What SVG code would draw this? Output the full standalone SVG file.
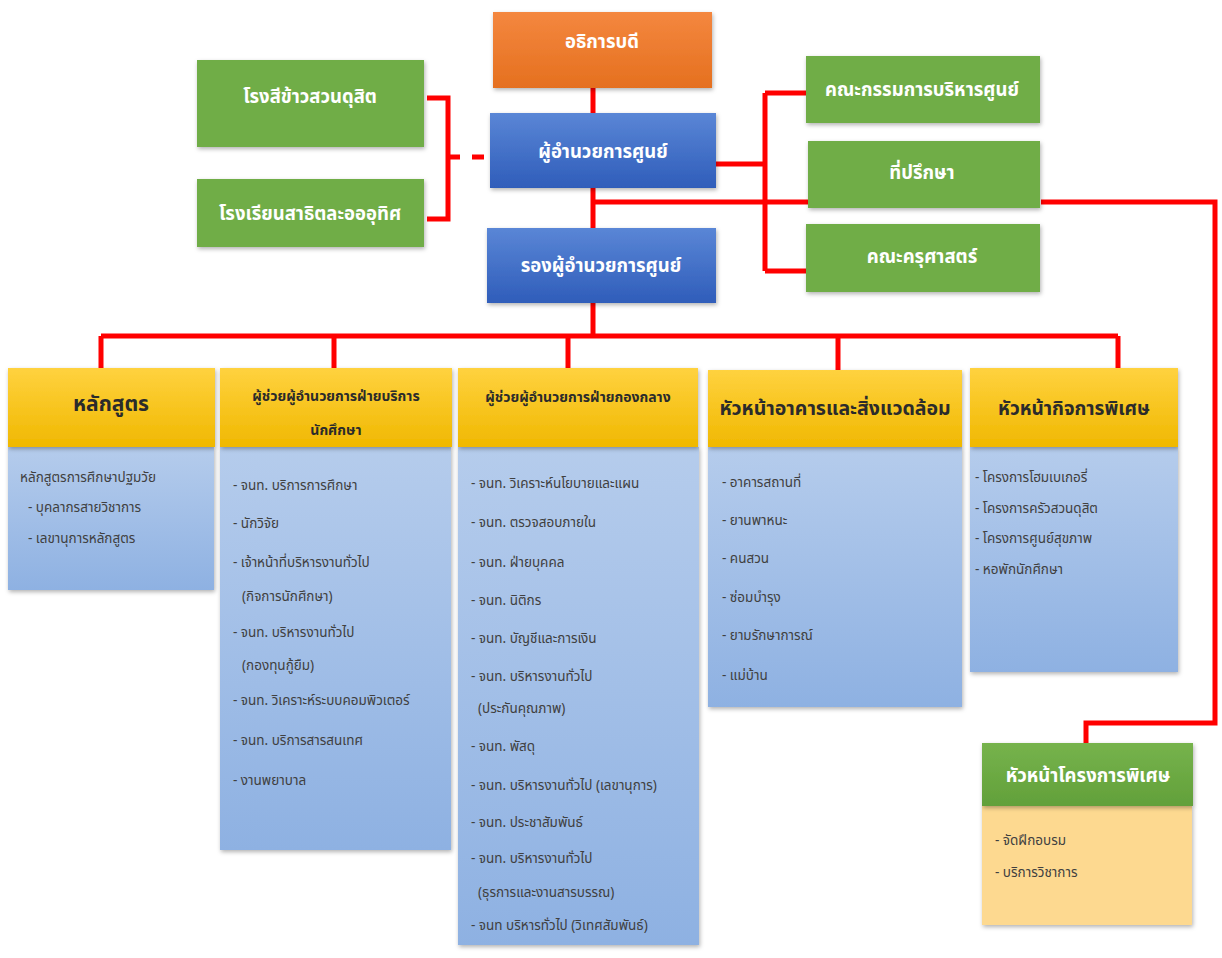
<svg xmlns="http://www.w3.org/2000/svg" width="1222" height="958" viewBox="0 0 1222 958">
<defs>
<linearGradient id="gOrange" x1="0" y1="0" x2="0" y2="1"><stop offset="0" stop-color="#F4873F"/><stop offset="1" stop-color="#E5701F"/></linearGradient>
<linearGradient id="gBlue" x1="0" y1="0" x2="0" y2="1"><stop offset="0" stop-color="#5A86D6"/><stop offset="1" stop-color="#2F5DBA"/></linearGradient>
<linearGradient id="gGold" x1="0" y1="0" x2="0" y2="1"><stop offset="0" stop-color="#FFD23F"/><stop offset="1" stop-color="#F0B800"/></linearGradient>
<linearGradient id="gBody" x1="0" y1="0" x2="0" y2="1"><stop offset="0" stop-color="#B5CCEC"/><stop offset="1" stop-color="#8EB1E2"/></linearGradient>
<linearGradient id="gGreen" x1="0" y1="0" x2="0" y2="1"><stop offset="0" stop-color="#76B34C"/><stop offset="1" stop-color="#62A03A"/></linearGradient>
<filter id="sh" x="-10%" y="-10%" width="120%" height="130%"><feDropShadow dx="1" dy="2" stdDeviation="2" flood-color="#000" flood-opacity="0.3"/></filter>
</defs>
<style>
.t{font-family:"Noto Sans Thai","Noto Sans","Liberation Sans",sans-serif;}
.w{fill:#FFFFFF;font-weight:bold;font-size:18.5px;text-anchor:middle;}
.h{fill:#2B2B2B;font-weight:bold;text-anchor:middle;}
.b{fill:#404040;font-size:13.5px;}
.ln{stroke:#FF0000;stroke-width:5;fill:none;}
</style>
<rect width="1222" height="958" fill="#FFFFFF"/>

<g id="connectors">
<path class="ln" d="M593 88 V114 M593 187 V230 M593 302 V336 M101 336 H1118 M101 336 V368 M334 336 V368 M568 336 V368 M838 336 V370 M1118 336 V368"/>
<path class="ln" d="M427 98 H448 V219 H427"/>
<path class="ln" d="M448 157 H488" stroke-dasharray="12 12"/>
<path class="ln" d="M716 164 H765 M765 93 V271 M765 93 H806 M765 271 H806"/>
<path class="ln" d="M593 202 H808 M1041 202 H1215 V723 H1086 V743"/>
</g>

<g id="n-rector"><rect x="493" y="12" width="219" height="76" fill="url(#gOrange)" filter="url(#sh)"/><text class="t w" x="602" y="48">อธิการบดี</text></g>
<g id="n-mill"><rect x="197" y="60" width="227" height="87" fill="#70AD47" filter="url(#sh)"/><text class="t w" x="310" y="103">โรงสีข้าวสวนดุสิต</text></g>
<g id="n-school"><rect x="197" y="179" width="227" height="68" fill="#70AD47" filter="url(#sh)"/><text class="t w" x="310" y="220">โรงเรียนสาธิตละอออุทิศ</text></g>
<g id="n-director"><rect x="490" y="113" width="226" height="75" fill="url(#gBlue)" filter="url(#sh)"/><text class="t w" x="603" y="158">ผู้อำนวยการศูนย์</text></g>
<g id="n-deputy"><rect x="487" y="228" width="229" height="75" fill="url(#gBlue)" filter="url(#sh)"/><text class="t w" x="601" y="272">รองผู้อำนวยการศูนย์</text></g>
<g id="n-board"><rect x="806" y="56" width="234" height="67" fill="#70AD47" filter="url(#sh)"/><text class="t w" x="922" y="96">คณะกรรมการบริหารศูนย์</text></g>
<g id="n-advisor"><rect x="808" y="141" width="232" height="67" fill="#70AD47" filter="url(#sh)"/><text class="t w" x="922" y="179">ที่ปรึกษา</text></g>
<g id="n-faculty"><rect x="806" y="224" width="234" height="68" fill="#70AD47" filter="url(#sh)"/><text class="t w" x="922" y="263">คณะครุศาสตร์</text></g>

<g id="n-curriculum">
<rect x="8" y="447" width="206" height="143" fill="url(#gBody)" filter="url(#sh)"/>
<rect x="8" y="368" width="207" height="79" fill="url(#gGold)" filter="url(#sh)"/>
<text class="t h" x="111" y="411" font-size="21">หลักสูตร</text>
<text class="t b" x="20" y="482" font-size="12.5">หลักสูตรการศึกษาปฐมวัย</text>
<text class="t b" x="28" y="512" font-size="12.5">- บุคลากรสายวิชาการ</text>
<text class="t b" x="28" y="543" font-size="12.5">- เลขานุการหลักสูตร</text>
</g>

<g id="n-student">
<rect x="220" y="447" width="231" height="403" fill="url(#gBody)" filter="url(#sh)"/>
<rect x="220" y="368" width="232" height="79" fill="url(#gGold)" filter="url(#sh)"/>
<text class="t h" x="336" y="401" font-size="14">ผู้ช่วยผู้อำนวยการฝ่ายบริการ</text>
<text class="t h" x="336" y="435" font-size="14">นักศึกษา</text>
<text class="t b" x="233" y="490">- จนท. บริการการศึกษา</text>
<text class="t b" x="233" y="528">- นักวิจัย</text>
<text class="t b" x="233" y="567">- เจ้าหน้าที่บริหารงานทั่วไป</text>
<text class="t b" x="242" y="601">(กิจการนักศึกษา)</text>
<text class="t b" x="233" y="637">- จนท. บริหารงานทั่วไป</text>
<text class="t b" x="242" y="670">(กองทุนกู้ยืม)</text>
<text class="t b" x="233" y="705">- จนท. วิเคราะห์ระบบคอมพิวเตอร์</text>
<text class="t b" x="233" y="745">- จนท. บริการสารสนเทศ</text>
<text class="t b" x="233" y="785">- งานพยาบาล</text>
</g>

<g id="n-central">
<rect x="458" y="447" width="241" height="498" fill="url(#gBody)" filter="url(#sh)"/>
<rect x="458" y="368" width="240" height="79" fill="url(#gGold)" filter="url(#sh)"/>
<text class="t h" x="578" y="402" font-size="14">ผู้ช่วยผู้อำนวยการฝ่ายกองกลาง</text>
<text class="t b" x="471" y="488">- จนท. วิเคราะห์นโยบายและแผน</text>
<text class="t b" x="471" y="527">- จนท. ตรวจสอบภายใน</text>
<text class="t b" x="471" y="567">- จนท. ฝ่ายบุคคล</text>
<text class="t b" x="471" y="605">- จนท. นิติกร</text>
<text class="t b" x="471" y="643">- จนท. บัญชีและการเงิน</text>
<text class="t b" x="471" y="681">- จนท. บริหารงานทั่วไป</text>
<text class="t b" x="478" y="713">(ประกันคุณภาพ)</text>
<text class="t b" x="471" y="751">- จนท. พัสดุ</text>
<text class="t b" x="471" y="790">- จนท. บริหารงานทั่วไป (เลขานุการ)</text>
<text class="t b" x="471" y="827">- จนท. ประชาสัมพันธ์</text>
<text class="t b" x="471" y="863">- จนท. บริหารงานทั่วไป</text>
<text class="t b" x="478" y="897">(ธุรการและงานสารบรรณ)</text>
<text class="t b" x="471" y="930">- จนท บริหารทั่วไป (วิเทศสัมพันธ์)</text>
</g>

<g id="n-building">
<rect x="708" y="447" width="254" height="260" fill="url(#gBody)" filter="url(#sh)"/>
<rect x="708" y="370" width="254" height="77" fill="url(#gGold)" filter="url(#sh)"/>
<text class="t h" x="835" y="415" font-size="19.5">หัวหน้าอาคารและสิ่งแวดล้อม</text>
<text class="t b" x="722" y="487" font-size="13">- อาคารสถานที่</text>
<text class="t b" x="722" y="525" font-size="13">- ยานพาหนะ</text>
<text class="t b" x="722" y="563" font-size="13">- คนสวน</text>
<text class="t b" x="722" y="602" font-size="13">- ซ่อมบำรุง</text>
<text class="t b" x="722" y="640" font-size="13">- ยามรักษาการณ์</text>
<text class="t b" x="722" y="680" font-size="13">- แม่บ้าน</text>
</g>

<g id="n-affairs">
<rect x="970" y="447" width="208" height="225" fill="url(#gBody)" filter="url(#sh)"/>
<rect x="970" y="368" width="208" height="79" fill="url(#gGold)" filter="url(#sh)"/>
<text class="t h" x="1074" y="415" font-size="19">หัวหน้ากิจการพิเศษ</text>
<text class="t b" x="975" y="482" font-size="12">- โครงการโฮมเบเกอรี่</text>
<text class="t b" x="975" y="513" font-size="12">- โครงการครัวสวนดุสิต</text>
<text class="t b" x="975" y="543" font-size="12">- โครงการศูนย์สุขภาพ</text>
<text class="t b" x="975" y="574" font-size="12">- หอพักนักศึกษา</text>
</g>

<g id="n-projects">
<rect x="982" y="806" width="210" height="119" fill="#FDD990" filter="url(#sh)"/>
<rect x="982" y="743" width="211" height="63" fill="url(#gGreen)" filter="url(#sh)"/>
<text class="t w" x="1088" y="782" font-size="19">หัวหน้าโครงการพิเศษ</text>
<text class="t b" x="995" y="845" font-size="12">- จัดฝึกอบรม</text>
<text class="t b" x="995" y="877" font-size="12">- บริการวิชาการ</text>
</g>
</svg>
